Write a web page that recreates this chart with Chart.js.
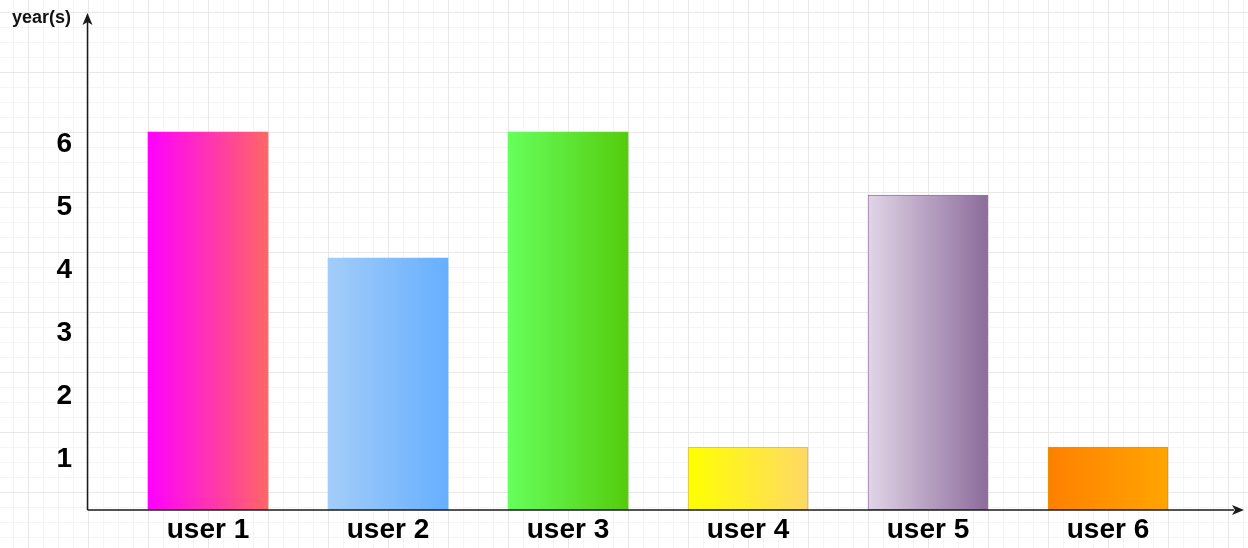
<!DOCTYPE html>
<html>
<head>
<meta charset="utf-8">
<script src="https://cdn.jsdelivr.net/npm/chart.js@4/dist/chart.umd.min.js"></script>
<style>
  body { margin: 0; background: #fff; }
  canvas { display: block; }
</style>
</head>
<body>
<canvas id="grafico" width="1248" height="548"></canvas>
<script>
// datos del gráfico
const usuarios = ['user 1', 'user 2', 'user 3', 'user 4', 'user 5', 'user 6'];
const anios = [6, 4, 6, 1, 5, 1];
const etiquetasY = [1, 2, 3, 4, 5, 6];

// colores del degradado (izquierda -> derecha) y borde de cada barra
const colorIzq = ['#ff00ff', '#a3cdf9', '#66ff5c', '#ffff00', '#e1d5e7', '#ff8000'];
const colorDer = ['#ff6666', '#66afff', '#55cc0d', '#ffd966', '#8c6c9b', '#ffa500'];
const colorBorde = ['#ff6666', '#66afff', '#55cc0d', '#d6b656', '#9673a6', '#d79b00'];
const anchoBorde = [0, 0, 0, 1, 1, 1];

// fondo cuadriculado tipo hoja
const fondoCuadricula = {
  id: 'fondoCuadricula',
  beforeDraw(chart) {
    const ctx = chart.ctx;
    const w = chart.width, h = chart.height;
    ctx.save();
    ctx.fillStyle = '#ffffff';
    ctx.fillRect(0, 0, w, h);
    ctx.lineWidth = 1;
    // lineas menores
    ctx.strokeStyle = '#f5f5f5';
    ctx.beginPath();
    for (let x = 13; x < w; x += 15) { ctx.moveTo(x + 0.5, 0); ctx.lineTo(x + 0.5, h); }
    for (let y = 12; y < h; y += 15) { ctx.moveTo(0, y + 0.5); ctx.lineTo(w, y + 0.5); }
    ctx.stroke();
    // lineas mayores
    ctx.strokeStyle = '#e8e8e8';
    ctx.beginPath();
    for (let x = 28; x < w; x += 60) { ctx.moveTo(x + 0.5, 0); ctx.lineTo(x + 0.5, h); }
    for (let y = 12; y < h; y += 60) { ctx.moveTo(0, y + 0.5); ctx.lineTo(w, y + 0.5); }
    ctx.stroke();
    ctx.restore();
  }
};

// ejes con flecha y texto "year(s)"
const ejesFlecha = {
  id: 'ejesFlecha',
  afterDatasetsDraw(chart) {
    const ctx = chart.ctx;
    const y0 = chart.scales.y.getPixelForValue(0);
    const x0 = 87.5;
    ctx.save();
    ctx.strokeStyle = '#1a1a1a';
    ctx.fillStyle = '#1a1a1a';
    ctx.lineWidth = 1.5;
    ctx.beginPath();
    ctx.moveTo(x0, y0);
    ctx.lineTo(x0, 22);
    ctx.moveTo(x0, y0);
    ctx.lineTo(1234, y0);
    ctx.stroke();
    // punta eje Y
    ctx.beginPath();
    ctx.moveTo(x0, 13);
    ctx.lineTo(x0 - 5, 25);
    ctx.lineTo(x0, 22);
    ctx.lineTo(x0 + 5, 25);
    ctx.closePath();
    ctx.fill();
    // punta eje X
    ctx.beginPath();
    ctx.moveTo(1244, y0);
    ctx.lineTo(1232, y0 - 5);
    ctx.lineTo(1235, y0);
    ctx.lineTo(1232, y0 + 5);
    ctx.closePath();
    ctx.fill();
    // titulo del eje
    ctx.fillStyle = '#111';
    ctx.font = 'bold 18px "Liberation Sans", Arial, sans-serif';
    ctx.textAlign = 'left';
    ctx.textBaseline = 'middle';
    ctx.fillText('year(s)', 12, 18);
    ctx.restore();
  }
};

function degradado(context) {
  const i = context.dataIndex;
  const chart = context.chart;
  if (!chart.chartArea || !chart.scales.x) return colorIzq[i];
  const x = chart.scales.x.getPixelForValue(i);
  const g = chart.ctx.createLinearGradient(x - 60, 0, x + 60, 0);
  g.addColorStop(0, colorIzq[i]);
  g.addColorStop(1, colorDer[i]);
  return g;
}

// quitar el relleno automatico que Chart.js agrega por las etiquetas
function sinRelleno(s) {
  s.paddingTop = 0;
  s.paddingBottom = 0;
  s.paddingLeft = 0;
  s.paddingRight = 0;
}

Chart.defaults.font.family = '"Liberation Sans", Arial, sans-serif';
Chart.defaults.color = '#000';

new Chart(document.getElementById('grafico'), {
  type: 'bar',
  data: {
    labels: usuarios,
    datasets: [{
      data: anios,
      backgroundColor: degradado,
      borderColor: colorBorde,
      borderWidth: anchoBorde,
      borderSkipped: false,
      barThickness: 120
    }]
  },
  options: {
    responsive: false,
    animation: false,
    layout: { padding: { left: 0, right: 50, top: 37.5, bottom: 0 } },
    plugins: {
      legend: { display: false },
      tooltip: { enabled: false }
    },
    scales: {
      x: {
        grid: { display: false, drawTicks: false },
        border: { display: false },
        ticks: {
          font: { size: 28, weight: 'bold' },
          padding: 3,
          maxRotation: 0
        },
        afterFit: (s) => { s.height = 38; sinRelleno(s); }
      },
      y: {
        min: 0,
        max: 7.5,
        grid: { display: false, drawTicks: false },
        border: { display: false },
        ticks: {
          stepSize: 1,
          font: { size: 28, weight: 'bold' },
          padding: 46,
          labelOffset: 12,
          callback: (v) => etiquetasY.includes(v) ? String(v) : ''
        },
        afterFit: (s) => { s.width = 118; sinRelleno(s); }
      }
    }
  },
  plugins: [fondoCuadricula, ejesFlecha]
});
</script>
